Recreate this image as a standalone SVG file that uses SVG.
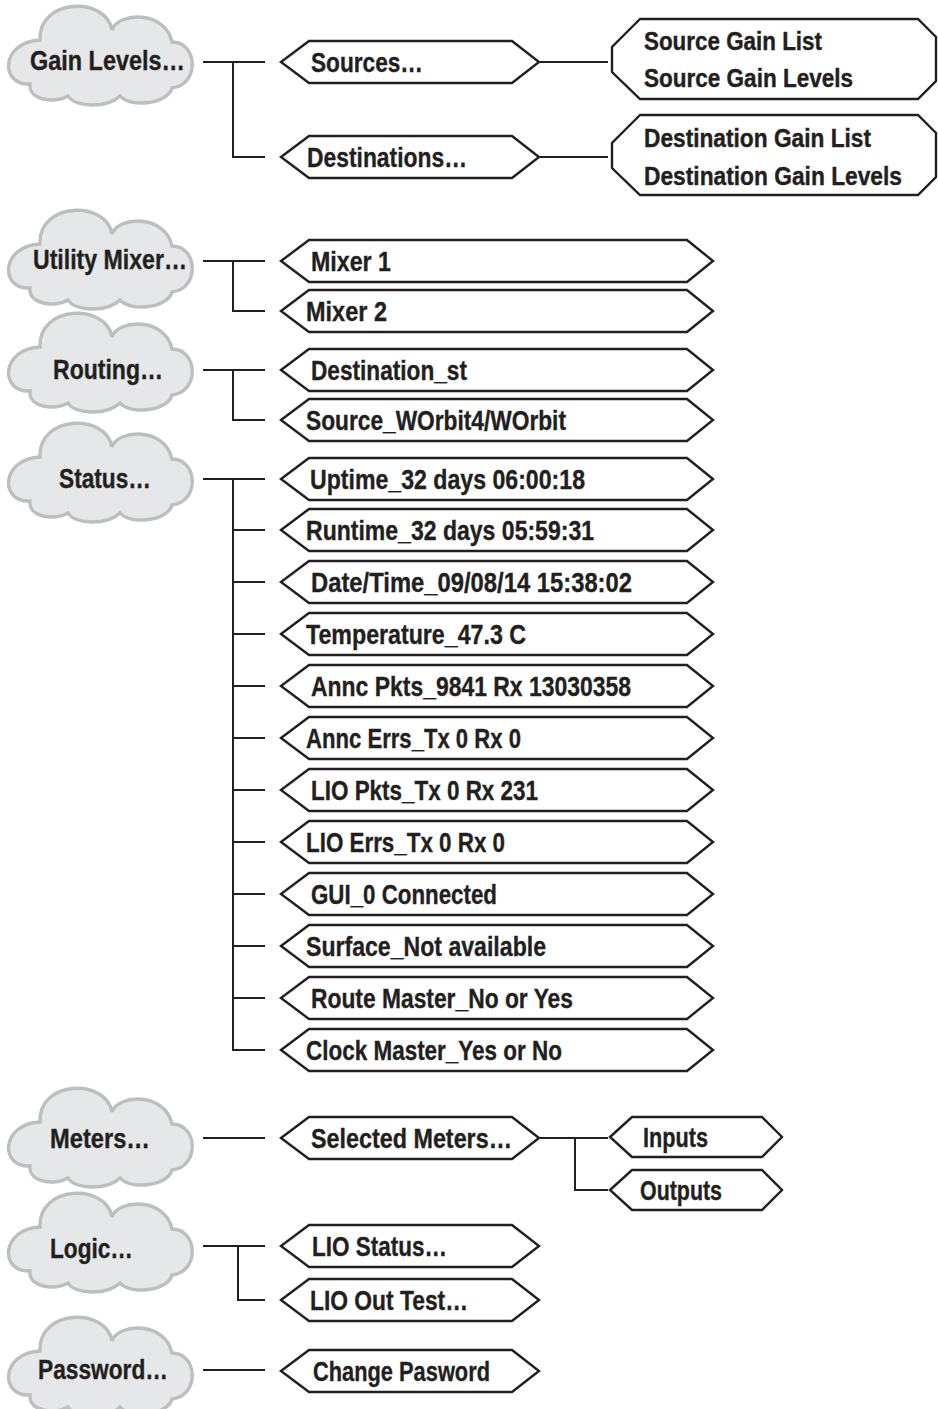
<svg xmlns="http://www.w3.org/2000/svg" xmlns:xlink="http://www.w3.org/1999/xlink" width="938" height="1409" viewBox="0 0 938 1409">
<style>
.cloud{fill:#e6e7e8;stroke:#bcbec0;stroke-width:3.4}
.hex{fill:#fff;stroke:#231f20;stroke-width:2.4;stroke-linejoin:miter}
.t{font-family:"Liberation Sans",Arial,sans-serif;font-weight:bold;font-size:27px;fill:#231f20;stroke:#231f20;stroke-width:0.35}
.t2{font-size:25.5px;stroke-width:0.4}
.ln{fill:none;stroke:#231f20;stroke-width:2}
</style>
<defs>
<path id="cloudShape" d="M40,40 C38,-2 106,-4 112,30 C118,12 165,10 172,42 C198,42 200,85 172,88 C168,104 130,108 120,96 C108,108 75,108 68,96 C55,104 28,100 30,84 C0,86 0,42 40,40 Z"/>
<polygon id="hexL" points="281,0 309,-21 687,-21 713,0 687,21 309,21"/>
<polygon id="hexS" points="281,0 309,-21 512,-21 539,0 512,21 309,21"/>
<polygon id="hexT" points="610,0 632,-20 762,-20 782,0 762,20 632,20"/>
</defs>
<g id="connectors">
<path class="ln" d="M203,62H265M233,62V157H265M540,62H608M540,157H608"/>
<path class="ln" d="M203,261H265M233,261V311H265"/>
<path class="ln" d="M203,370H265M233,370V420H265"/>
<path class="ln" d="M203,479H265M233,479V1050H265M233,530H265M233,582H265M233,634H265M233,686H265M233,738H265M233,790H265M233,842H265M233,894H265M233,946H265M233,998H265"/>
<path class="ln" d="M203,1138H265M540,1138H608M575,1138V1190H608"/>
<path class="ln" d="M203,1246H265M238,1246V1300H265"/>
<path class="ln" d="M203,1370H265"/>
</g>
<g id="gain-levels"><use xlink:href="#cloudShape" class="cloud"/><text class="t" x="30" y="70" textLength="155" lengthAdjust="spacingAndGlyphs">Gain Levels…</text></g>
<g id="sources"><use xlink:href="#hexS" class="hex" y="62"/><text class="t" x="311" y="72" textLength="112" lengthAdjust="spacingAndGlyphs">Sources…</text></g>
<g id="destinations"><use xlink:href="#hexS" class="hex" y="157"/><text class="t" x="307" y="167" textLength="160" lengthAdjust="spacingAndGlyphs">Destinations…</text></g>
<g id="source-gain"><polygon class="hex" points="640,19 612,47 612,72 640,99 918,99 936,81 936,37 918,19"/><text class="t t2" x="644" y="50" textLength="178" lengthAdjust="spacingAndGlyphs">Source Gain List</text><text class="t t2" x="644" y="87" textLength="209" lengthAdjust="spacingAndGlyphs">Source Gain Levels</text></g>
<g id="destination-gain"><polygon class="hex" points="640,115 612,143 612,168 640,195 918,195 936,177 936,133 918,115"/><text class="t t2" x="644" y="147" textLength="227" lengthAdjust="spacingAndGlyphs">Destination Gain List</text><text class="t t2" x="644" y="185" textLength="258" lengthAdjust="spacingAndGlyphs">Destination Gain Levels</text></g>
<g id="utility-mixer"><use xlink:href="#cloudShape" class="cloud" transform="translate(0,204)"/><text class="t" x="33" y="269" textLength="154" lengthAdjust="spacingAndGlyphs">Utility Mixer…</text></g>
<g id="mixer1"><use xlink:href="#hexL" class="hex" y="261"/><text class="t" x="311" y="271" textLength="80" lengthAdjust="spacingAndGlyphs">Mixer 1</text></g>
<g id="mixer2"><use xlink:href="#hexL" class="hex" y="311"/><text class="t" x="306" y="321" textLength="81" lengthAdjust="spacingAndGlyphs">Mixer 2</text></g>
<g id="routing"><use xlink:href="#cloudShape" class="cloud" transform="translate(0,307)"/><text class="t" x="53" y="379" textLength="110" lengthAdjust="spacingAndGlyphs">Routing…</text></g>
<g id="destination-st"><use xlink:href="#hexL" class="hex" y="370"/><text class="t" x="311" y="380" textLength="156" lengthAdjust="spacingAndGlyphs">Destination_st</text></g>
<g id="source-worbit"><use xlink:href="#hexL" class="hex" y="420"/><text class="t" x="306" y="430" textLength="260" lengthAdjust="spacingAndGlyphs">Source_WOrbit4/WOrbit</text></g>
<g id="status"><use xlink:href="#cloudShape" class="cloud" transform="translate(0,417)"/><text class="t" x="59" y="488" textLength="92" lengthAdjust="spacingAndGlyphs">Status…</text></g>
<g id="uptime"><use xlink:href="#hexL" class="hex" y="479"/><text class="t" x="310" y="489" textLength="275" lengthAdjust="spacingAndGlyphs">Uptime_32 days 06:00:18</text></g>
<g id="runtime"><use xlink:href="#hexL" class="hex" y="530"/><text class="t" x="306" y="540" textLength="288" lengthAdjust="spacingAndGlyphs">Runtime_32 days 05:59:31</text></g>
<g id="datetime"><use xlink:href="#hexL" class="hex" y="582"/><text class="t" x="311" y="592" textLength="321" lengthAdjust="spacingAndGlyphs">Date/Time_09/08/14 15:38:02</text></g>
<g id="temperature"><use xlink:href="#hexL" class="hex" y="634"/><text class="t" x="306" y="644" textLength="220" lengthAdjust="spacingAndGlyphs">Temperature_47.3 C</text></g>
<g id="annc-pkts"><use xlink:href="#hexL" class="hex" y="686"/><text class="t" x="311" y="696" textLength="320" lengthAdjust="spacingAndGlyphs">Annc Pkts_9841 Rx 13030358</text></g>
<g id="annc-errs"><use xlink:href="#hexL" class="hex" y="738"/><text class="t" x="306" y="748" textLength="215" lengthAdjust="spacingAndGlyphs">Annc Errs_Tx 0 Rx 0</text></g>
<g id="lio-pkts"><use xlink:href="#hexL" class="hex" y="790"/><text class="t" x="311" y="800" textLength="227" lengthAdjust="spacingAndGlyphs">LIO Pkts_Tx 0 Rx 231</text></g>
<g id="lio-errs"><use xlink:href="#hexL" class="hex" y="842"/><text class="t" x="306" y="852" textLength="199" lengthAdjust="spacingAndGlyphs">LIO Errs_Tx 0 Rx 0</text></g>
<g id="gui"><use xlink:href="#hexL" class="hex" y="894"/><text class="t" x="311" y="904" textLength="186" lengthAdjust="spacingAndGlyphs">GUI_0 Connected</text></g>
<g id="surface"><use xlink:href="#hexL" class="hex" y="946"/><text class="t" x="306" y="956" textLength="240" lengthAdjust="spacingAndGlyphs">Surface_Not available</text></g>
<g id="route-master"><use xlink:href="#hexL" class="hex" y="998"/><text class="t" x="311" y="1008" textLength="262" lengthAdjust="spacingAndGlyphs">Route Master_No or Yes</text></g>
<g id="clock-master"><use xlink:href="#hexL" class="hex" y="1050"/><text class="t" x="306" y="1060" textLength="256" lengthAdjust="spacingAndGlyphs">Clock Master_Yes or No</text></g>
<g id="meters"><use xlink:href="#cloudShape" class="cloud" transform="translate(0,1082)"/><text class="t" x="50" y="1148" textLength="100" lengthAdjust="spacingAndGlyphs">Meters…</text></g>
<g id="selected-meters"><use xlink:href="#hexS" class="hex" y="1138"/><text class="t" x="311" y="1148" textLength="201" lengthAdjust="spacingAndGlyphs">Selected Meters…</text></g>
<g id="inputs"><use xlink:href="#hexT" class="hex" y="1137"/><text class="t" x="643" y="1147" textLength="65" lengthAdjust="spacingAndGlyphs">Inputs</text></g>
<g id="outputs"><use xlink:href="#hexT" class="hex" y="1190"/><text class="t" x="640" y="1200" textLength="82" lengthAdjust="spacingAndGlyphs">Outputs</text></g>
<g id="logic"><use xlink:href="#cloudShape" class="cloud" transform="translate(0,1187)"/><text class="t" x="50" y="1258" textLength="83" lengthAdjust="spacingAndGlyphs">Logic…</text></g>
<g id="lio-status"><use xlink:href="#hexS" class="hex" y="1246"/><text class="t" x="312" y="1256" textLength="135" lengthAdjust="spacingAndGlyphs">LIO Status…</text></g>
<g id="lio-out-test"><use xlink:href="#hexS" class="hex" y="1300"/><text class="t" x="310" y="1310" textLength="158" lengthAdjust="spacingAndGlyphs">LIO Out Test…</text></g>
<g id="password"><use xlink:href="#cloudShape" class="cloud" transform="translate(0,1311)"/><text class="t" x="38" y="1379" textLength="130" lengthAdjust="spacingAndGlyphs">Password…</text></g>
<g id="change-password"><use xlink:href="#hexS" class="hex" y="1371"/><text class="t" x="313" y="1381" textLength="177" lengthAdjust="spacingAndGlyphs">Change Pasword</text></g>
</svg>
